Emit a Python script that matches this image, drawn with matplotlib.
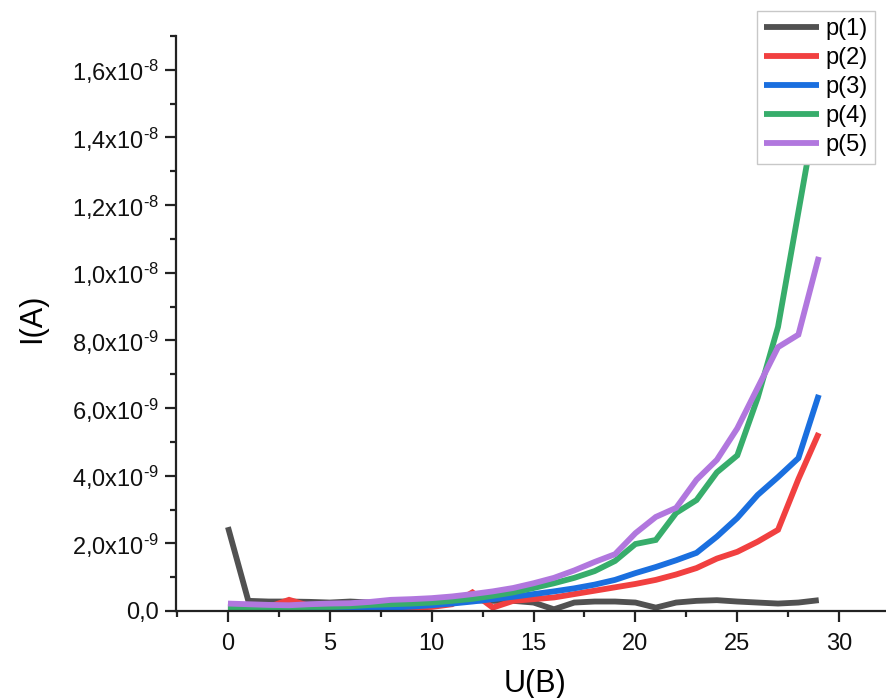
import matplotlib
matplotlib.use("Agg")
import matplotlib.pyplot as plt
from matplotlib.ticker import MultipleLocator, FuncFormatter

plt.rcParams['font.family'] = ['Liberation Sans', 'DejaVu Sans']
plt.rcParams['mathtext.fontset'] = 'custom'
plt.rcParams['mathtext.rm'] = 'Liberation Sans'

# Voltage U (V) and currents I (in units of 1e-9 A)
voltage = list(range(30))
p1 = [2.48, 0.30, 0.28, 0.28, 0.27, 0.25, 0.28, 0.25, 0.28, 0.30, 0.30, 0.30, 0.32, 0.30,
      0.30, 0.25, 0.05, 0.25, 0.28, 0.28, 0.25, 0.10, 0.25, 0.30, 0.32, 0.28, 0.25, 0.22,
      0.25, 0.32]
p2 = [0.12, 0.12, 0.12, 0.33, 0.15, 0.12, 0.08, 0.08, 0.08, 0.10, 0.12, 0.20, 0.55, 0.10,
      0.30, 0.35, 0.40, 0.50, 0.60, 0.70, 0.80, 0.92, 1.08, 1.27, 1.55, 1.75, 2.05, 2.40,
      3.90, 5.26]
p3 = [0.03, 0.03, 0.03, 0.03, 0.03, 0.04, 0.06, 0.08, 0.10, 0.13, 0.17, 0.22, 0.28, 0.35,
      0.42, 0.50, 0.58, 0.67, 0.78, 0.92, 1.12, 1.30, 1.50, 1.72, 2.20, 2.75, 3.43, 3.96,
      4.52, 6.39]
p4 = [0.10, 0.10, 0.10, 0.10, 0.12, 0.12, 0.14, 0.18, 0.20, 0.22, 0.25, 0.30, 0.36, 0.45,
      0.55, 0.68, 0.82, 0.98, 1.18, 1.48, 1.98, 2.10, 2.90, 3.28, 4.10, 4.60, 6.30, 8.40,
      11.8, 15.2]
p5 = [0.22, 0.20, 0.18, 0.17, 0.20, 0.22, 0.23, 0.27, 0.33, 0.35, 0.38, 0.43, 0.50, 0.58,
      0.68, 0.82, 0.98, 1.20, 1.45, 1.68, 2.30, 2.78, 3.05, 3.88, 4.47, 5.40, 6.60, 7.80,
      8.17, 10.47]

series = [("p(1)", p1, "#515151"), ("p(2)", p2, "#F14040"), ("p(3)", p3, "#1A6FDF"),
          ("p(4)", p4, "#37AD6B"), ("p(5)", p5, "#B177DE")]

W, H = 886, 698
fig = plt.figure(figsize=(W / 100, H / 100), dpi=100)
ax = fig.add_axes([176 / W, 1 - 611 / H, (W - 176) / W, (611 - 36) / H])

LW = 4.2
for name, vals, col in series:
    ax.plot(voltage, [v * 1e-9 for v in vals], color=col, lw=LW, label=name,
            solid_joinstyle='miter', solid_capstyle='butt')

ax.set_xlim(-2.55, 32.3)
ax.set_ylim(0, 1.70e-8)

ax.xaxis.set_major_locator(MultipleLocator(5))
ax.xaxis.set_minor_locator(MultipleLocator(2.5))
ax.yaxis.set_major_locator(MultipleLocator(2e-9))
ax.yaxis.set_minor_locator(MultipleLocator(1e-9))


def fmt_y(v, pos):
    if abs(v) < 1e-15:
        return "0,0"
    if v > 1.7e-8 or v < 0:
        return ""
    exp = 0
    m = v
    while abs(m) >= 10:
        m /= 10
        exp += 1
    while abs(m) < 1:
        m *= 10
        exp -= 1
    ms = f"{m:.1f}".replace(".", "{,}")
    return r"$\mathregular{%sx10^{\text{-}%d}}$" % (ms, -exp)


ax.yaxis.set_major_formatter(FuncFormatter(fmt_y))
ax.yaxis.get_offset_text().set_visible(False)

for s in ("top", "right"):
    ax.spines[s].set_visible(False)
for s in ("left", "bottom"):
    ax.spines[s].set_linewidth(1.6)
    ax.spines[s].set_color("#222222")

ax.tick_params(which='major', direction='out', length=8, width=1.6, colors="#222222",
               labelsize=17, labelcolor="#111111")
ax.tick_params(which='minor', direction='out', length=4.5, width=1.6, colors="#222222")
ax.tick_params(axis='x', pad=8)
ax.tick_params(axis='y', pad=4)

fig.text(535 / W, 1 - 684 / H, "U(B)", fontsize=22, ha='center', va='center')
fig.text(32 / W, 1 - 318 / H, "I(A)", fontsize=22, ha='center', va='center', rotation=90)

leg = ax.legend(loc='upper right', bbox_to_anchor=(875 / W, 1 - 11 / H),
                bbox_transform=fig.transFigure, fontsize=17, frameon=True, fancybox=False,
                framealpha=1, edgecolor="#c8c8c8", handlelength=2.3, handletextpad=0.3,
                labelspacing=0.3, borderpad=0.3, borderaxespad=0)
leg.get_frame().set_linewidth(1.0)
for line in leg.get_lines():
    line.set_linewidth(LW)

fig.savefig("out.png", dpi=100)
